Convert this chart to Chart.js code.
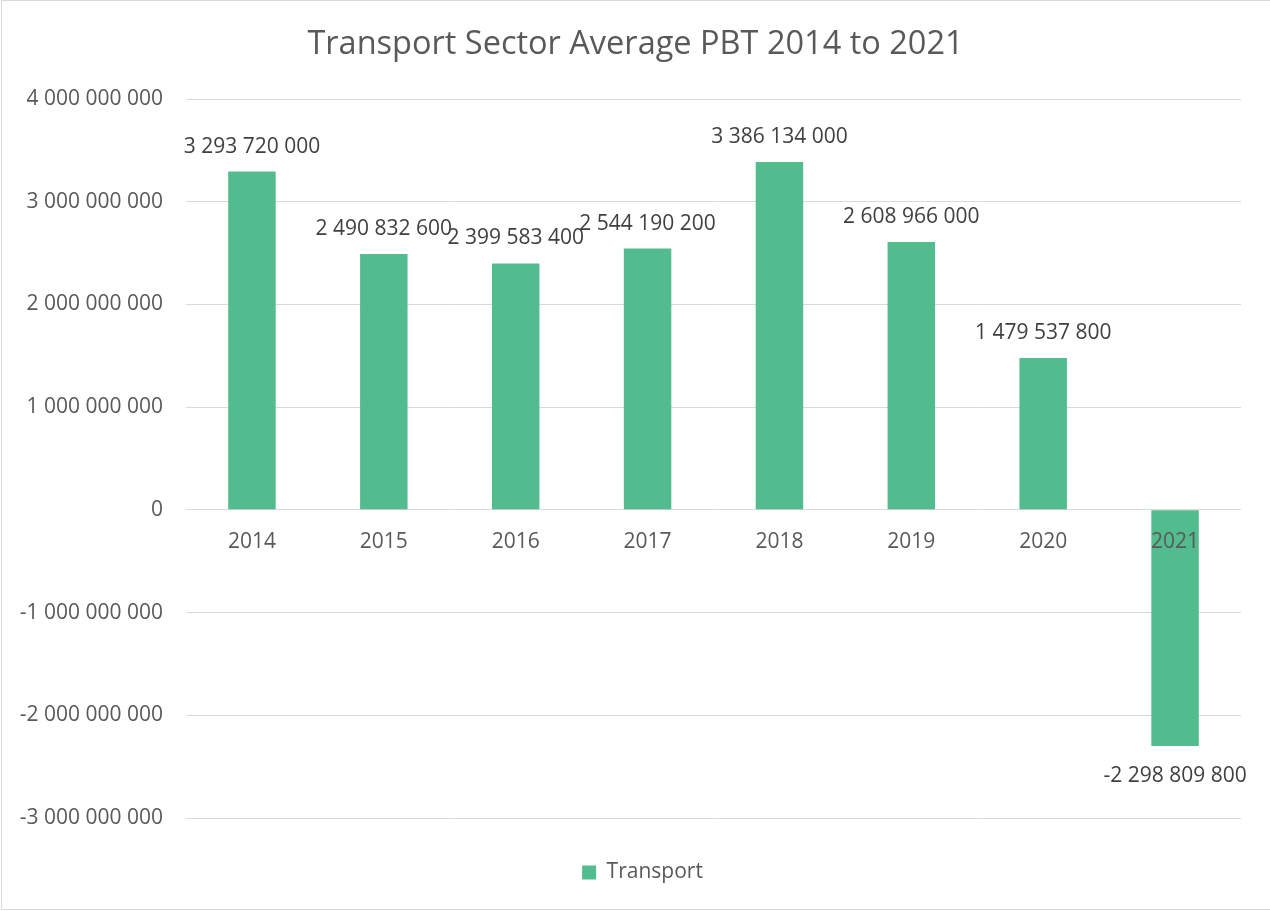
<!DOCTYPE html>
<html>
<head>
<meta charset="utf-8">
<script src="https://cdn.jsdelivr.net/npm/chart.js@4.4.1/dist/chart.umd.min.js"></script>
<style>
  body { margin: 0; background: #fff; }
  #wrap { position: relative; width: 1270px; height: 911px; }
  #frame { position: absolute; left: 1px; top: 0; width: 1270px; height: 908px; border: 1px solid #d9d9d9; pointer-events: none; }
</style>
</head>
<body>
<div id="wrap">
  <canvas id="pbtChart" width="1270" height="911"></canvas>
  <div id="frame"></div>
</div>
<script>
// Transport sector average PBT per year
const years = ['2014', '2015', '2016', '2017', '2018', '2019', '2020', '2021'];
const transportPbt = [3293720000, 2490832600, 2399583400, 2544190200, 3386134000, 2608966000, 1479537800, -2298809800];
const yTicks = [-3000000000, -2000000000, -1000000000, 0, 1000000000, 2000000000, 3000000000, 4000000000];

const FONT = '"Open Sans", "Noto Sans", sans-serif';

// 1234567 -> "1 234 567"
function spaced(v) {
    const s = Math.abs(Math.round(v)).toString().replace(/\B(?=(\d{3})+(?!\d))/g, ' ');
    return (v < 0 ? '-' : '') + s;
}

// draws the value above (or below, for negatives) each bar
const valueLabels = {
    id: 'valueLabels',
    afterLayout(chart) {
        // title and legend are centred on the whole canvas in the original,
        // not on the area left of the right padding
        chart.titleBlock.left += 15;
        chart.titleBlock.right += 15;
        chart.legend.left += 22;
        chart.legend.right += 22;
    },
    afterDraw(chart) {
        const ctx = chart.ctx;
        const meta = chart.getDatasetMeta(0);
        ctx.save();
        ctx.font = '21px ' + FONT;
        ctx.fillStyle = '#404040';
        ctx.textAlign = 'center';
        ctx.textBaseline = 'middle';
        meta.data.forEach((bar, i) => {
            const v = chart.data.datasets[0].data[i];
            const y = v >= 0 ? bar.y - 25 : bar.y + 30;
            ctx.fillText(spaced(v), bar.x, y);
        });
        ctx.restore();
    }
};

new Chart(document.getElementById('pbtChart'), {
    type: 'bar',
    data: {
        labels: years,
        datasets: [{
            label: 'Transport',
            data: transportPbt,
            backgroundColor: '#53bc8f',
            borderWidth: 0,
            barPercentage: 0.36,
            categoryPercentage: 1
        }]
    },
    options: {
        responsive: false,
        animation: false,
        layout: { padding: { left: 0, right: 29, top: 0, bottom: 18 } },
        scales: {
            x: {
                position: { y: 0 },
                grid: { display: false, drawTicks: false },
                border: { display: false },
                ticks: { z: 1, color: '#595959', font: { family: FONT, size: 21 }, padding: 20, maxRotation: 0, autoSkip: false }
            },
            y: {
                min: yTicks[0],
                max: yTicks[yTicks.length - 1],
                afterBuildTicks: scale => { scale.ticks = yTicks.map(v => ({ value: v })); },
                afterFit: scale => { scale.width = 186; },
                grid: { color: '#d9d9d9', lineWidth: 1, drawTicks: false },
                border: { display: false },
                ticks: { color: '#595959', font: { family: FONT, size: 21 }, padding: 23, callback: v => spaced(v) }
            }
        },
        plugins: {
            title: {
                display: true,
                text: 'Transport Sector Average PBT 2014 to 2021',
                color: '#595959',
                font: { family: FONT, size: 32.5, weight: 'normal' },
                padding: { top: 25, bottom: 35 }
            },
            legend: {
                position: 'bottom',
                labels: {
                    color: '#595959',
                    font: { family: FONT, size: 21 },
                    boxWidth: 14,
                    boxHeight: 14,
                    padding: 44
                }
            },
            tooltip: { enabled: false }
        }
    },
    plugins: [valueLabels]
});
</script>
</body>
</html>
